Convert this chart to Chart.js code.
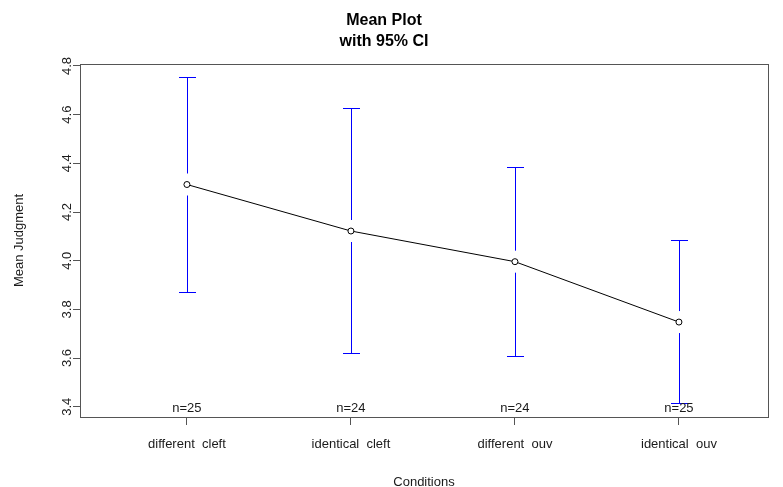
<!DOCTYPE html>
<html>
<head>
<meta charset="utf-8">
<script src="https://cdn.jsdelivr.net/npm/chart.js@4"></script>
<style>
  html, body { margin: 0; padding: 0; background: #fff; }
  #wrap { width: 783px; height: 487px; }
</style>
</head>
<body>
<div id="wrap"><canvas id="meanPlot" width="783" height="487"></canvas></div>
<script>
const conditions = ['different  cleft', 'identical  cleft', 'different  ouv', 'identical  ouv'];
const groupSizes = [25, 24, 24, 25];
const means = [4.313, 4.122, 3.996, 3.748];
const ciUpper = [4.753, 4.626, 4.383, 4.086];
const ciLower = [3.872, 3.621, 3.609, 3.416];
const yTicks = [3.4, 3.6, 3.8, 4.0, 4.2, 4.4, 4.6, 4.8];

const axisGray = '#555';
const textColor = '#1a1a1a';
const barBlue = 'rgb(0, 0, 255)';

// error bars, n= labels, rotated y labels and the box, R style
const plotmeansExtras = {
    id: 'plotmeansExtras',
    afterDatasetsDraw(chart) {
        const { ctx, scales: { x, y } } = chart;
        means.forEach((m, i) => {
            const px = Math.round(x.getPixelForValue(i + 1)) + 0.5;
            const pm = y.getPixelForValue(m);
            const pu = Math.round(y.getPixelForValue(ciUpper[i])) + 0.5;
            const pl = Math.round(y.getPixelForValue(ciLower[i])) + 0.5;
            ctx.save();
            ctx.strokeStyle = barBlue;
            ctx.lineWidth = 1;
            ctx.beginPath();
            ctx.moveTo(px, pu);
            ctx.lineTo(px, pm - 11);
            ctx.moveTo(px, pm + 11);
            ctx.lineTo(px, pl);
            ctx.moveTo(px - 8.5, pu);
            ctx.lineTo(px + 8.5, pu);
            ctx.moveTo(px - 8.5, pl);
            ctx.lineTo(px + 8.5, pl);
            ctx.stroke();
            ctx.restore();
        });
    },
    afterDraw(chart) {
        const { ctx, chartArea: a, scales: { x, y } } = chart;
        ctx.save();
        ctx.strokeStyle = axisGray;
        ctx.lineWidth = 1;
        ctx.strokeRect(Math.round(a.left) + 0.5, Math.round(a.top) + 0.5,
            Math.round(a.right - a.left), Math.round(a.bottom - a.top));

        ctx.fillStyle = textColor;
        ctx.font = '13px Arial, "Liberation Sans", sans-serif';
        ctx.textAlign = 'center';
        ctx.textBaseline = 'middle';
        groupSizes.forEach((n, i) => {
            ctx.fillText('n=' + n, x.getPixelForValue(i + 1), a.bottom - 9);
        });

        yTicks.forEach(v => {
            ctx.save();
            ctx.translate(a.left - 13, y.getPixelForValue(v));
            ctx.rotate(-Math.PI / 2);
            ctx.fillText(v.toFixed(1), 0, 0);
            ctx.restore();
        });
        ctx.restore();
    }
};

new Chart(document.getElementById('meanPlot'), {
    type: 'line',
    data: {
        datasets: [{
            data: means.map((m, i) => ({ x: i + 1, y: m })),
            borderColor: '#000',
            borderWidth: 1,
            pointRadius: 3,
            pointBorderWidth: 1,
            pointBackgroundColor: '#fff',
            pointBorderColor: '#000',
            tension: 0
        }]
    },
    options: {
        responsive: false,
        animation: false,
        layout: { padding: { left: 0, right: 15, top: 0, bottom: 0 } },
        plugins: {
            legend: { display: false },
            tooltip: { enabled: false },
            title: {
                display: true,
                text: ['Mean Plot', 'with 95% CI'],
                color: '#000',
                font: { family: 'Arial, "Liberation Sans", sans-serif', size: 16, weight: 'bold', lineHeight: 1.3125 },
                padding: { top: 10, bottom: 12 }
            }
        },
        scales: {
            x: {
                type: 'linear',
                min: 0.348,
                max: 4.543,
                afterBuildTicks: scale => {
                    scale.ticks = conditions.map((c, i) => ({ value: i + 1 }));
                },
                afterFit: scale => { scale.height = 70; },
                ticks: {
                    color: textColor,
                    font: { family: 'Arial, "Liberation Sans", sans-serif', size: 13 },
                    padding: 12,
                    maxRotation: 0,
                    autoSkip: false,
                    callback: value => conditions[value - 1]
                },
                grid: { drawOnChartArea: false, tickLength: 8, color: axisGray },
                border: { color: axisGray },
                title: {
                    display: true,
                    text: 'Conditions',
                    color: textColor,
                    font: { family: 'Arial, "Liberation Sans", sans-serif', size: 13, lineHeight: 0.75 },
                    padding: 0
                }
            },
            y: {
                min: 3.358,
                max: 4.808,
                afterBuildTicks: scale => {
                    scale.ticks = yTicks.map(v => ({ value: v }));
                },
                afterFit: scale => { scale.width = 80; },
                ticks: { display: false },
                grid: { drawOnChartArea: false, tickLength: 7, color: axisGray },
                border: { color: axisGray },
                title: {
                    display: true,
                    text: 'Mean Judgment',
                    color: textColor,
                    font: { family: 'Arial, "Liberation Sans", sans-serif', size: 13 },
                    padding: { top: 12, bottom: 0 }
                }
            }
        }
    },
    plugins: [plotmeansExtras]
});
</script>
</body>
</html>
